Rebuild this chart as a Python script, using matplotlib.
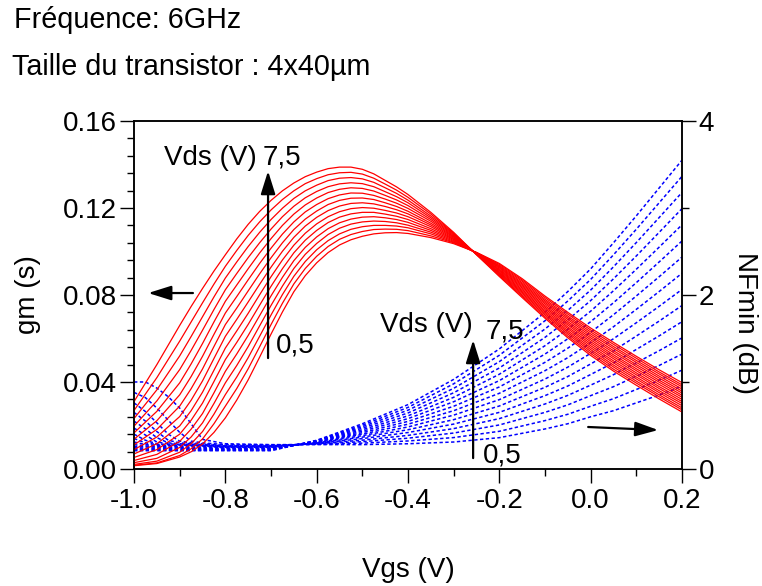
# gm and NFmin versus Vgs for Vds = 0.5 ... 7.5 V

import numpy as np
import matplotlib
matplotlib.use("Agg")
import matplotlib.pyplot as plt

plt.rcParams["font.family"] = ["Liberation Sans", "DejaVu Sans"]

# Vds values of the two families (one curve per value)
vds = [0.5, 1.0, 1.5, 2.0, 2.5, 3.0, 3.5, 4.0, 4.5, 5.0, 5.5, 6.0, 6.5, 7.0, 7.5]

# gm (S): one row per Vgs point, one column per Vds (0.5 V -> 7.5 V)
gm_vgs = [-1.0, -0.95, -0.9, -0.875, -0.85, -0.825, -0.8, -0.775, -0.75, -0.725, -0.7,
          -0.675, -0.65, -0.625, -0.6, -0.575, -0.55, -0.525, -0.5, -0.475, -0.45,
          -0.425, -0.4, -0.35, -0.3, -0.25, -0.2, -0.15, -0.1, -0.05, 0.0, 0.05,
          0.1, 0.15, 0.2]
gm_rows = [
    [0.0015, 0.0017, 0.0021, 0.0029, 0.0039, 0.0053, 0.0069, 0.0089, 0.0111, 0.0137, 0.0166, 0.0197, 0.0232, 0.0269, 0.0310],
    [0.0025, 0.0028, 0.0036, 0.0049, 0.0067, 0.0089, 0.0116, 0.0147, 0.0182, 0.0222, 0.0265, 0.0313, 0.0364, 0.0420, 0.0480],
    [0.0055, 0.0062, 0.0077, 0.0099, 0.0127, 0.0160, 0.0198, 0.0241, 0.0289, 0.0341, 0.0396, 0.0457, 0.0520, 0.0588, 0.0660],
    [0.0079, 0.0093, 0.0116, 0.0147, 0.0183, 0.0224, 0.0268, 0.0316, 0.0369, 0.0425, 0.0483, 0.0545, 0.0609, 0.0676, 0.0747],
    [0.0115, 0.0138, 0.0172, 0.0212, 0.0255, 0.0303, 0.0353, 0.0405, 0.0460, 0.0518, 0.0577, 0.0638, 0.0700, 0.0764, 0.0830],
    [0.0168, 0.0208, 0.0252, 0.0301, 0.0350, 0.0402, 0.0454, 0.0508, 0.0563, 0.0619, 0.0676, 0.0733, 0.0791, 0.0850, 0.0910],
    [0.0235, 0.0289, 0.0342, 0.0396, 0.0449, 0.0503, 0.0556, 0.0610, 0.0664, 0.0717, 0.0771, 0.0824, 0.0878, 0.0932, 0.0985],
    [0.0317, 0.0370, 0.0423, 0.0476, 0.0529, 0.0582, 0.0635, 0.0688, 0.0740, 0.0793, 0.0846, 0.0899, 0.0952, 0.1005, 0.1058],
    [0.0410, 0.0461, 0.0512, 0.0563, 0.0614, 0.0665, 0.0716, 0.0768, 0.0819, 0.0870, 0.0921, 0.0972, 0.1023, 0.1074, 0.1125],
    [0.0514, 0.0562, 0.0610, 0.0658, 0.0705, 0.0753, 0.0801, 0.0849, 0.0897, 0.0945, 0.0993, 0.1040, 0.1088, 0.1136, 0.1184],
    [0.0620, 0.0664, 0.0708, 0.0752, 0.0796, 0.0840, 0.0884, 0.0928, 0.0971, 0.1015, 0.1059, 0.1103, 0.1147, 0.1191, 0.1235],
    [0.0722, 0.0762, 0.0802, 0.0841, 0.0881, 0.0921, 0.0961, 0.1001, 0.1040, 0.1080, 0.1120, 0.1160, 0.1199, 0.1239, 0.1279],
    [0.0815, 0.0851, 0.0886, 0.0922, 0.0958, 0.0994, 0.1029, 0.1065, 0.1101, 0.1136, 0.1172, 0.1208, 0.1244, 0.1279, 0.1315],
    [0.0889, 0.0922, 0.0954, 0.0987, 0.1019, 0.1052, 0.1084, 0.1117, 0.1149, 0.1182, 0.1214, 0.1247, 0.1279, 0.1312, 0.1344],
    [0.0948, 0.0978, 0.1008, 0.1037, 0.1067, 0.1097, 0.1127, 0.1157, 0.1186, 0.1216, 0.1246, 0.1276, 0.1305, 0.1335, 0.1365],
    [0.0995, 0.1023, 0.1050, 0.1078, 0.1105, 0.1133, 0.1160, 0.1188, 0.1216, 0.1243, 0.1271, 0.1298, 0.1326, 0.1353, 0.1381],
    [0.1030, 0.1056, 0.1081, 0.1107, 0.1132, 0.1158, 0.1183, 0.1209, 0.1235, 0.1260, 0.1286, 0.1311, 0.1337, 0.1362, 0.1388],
    [0.1054, 0.1078, 0.1102, 0.1126, 0.1149, 0.1173, 0.1197, 0.1221, 0.1245, 0.1269, 0.1293, 0.1316, 0.1340, 0.1364, 0.1388],
    [0.1070, 0.1092, 0.1114, 0.1136, 0.1158, 0.1180, 0.1202, 0.1224, 0.1246, 0.1268, 0.1290, 0.1312, 0.1334, 0.1356, 0.1378],
    [0.1081, 0.1101, 0.1120, 0.1140, 0.1160, 0.1180, 0.1199, 0.1219, 0.1239, 0.1258, 0.1278, 0.1298, 0.1318, 0.1337, 0.1357],
    [0.1086, 0.1103, 0.1120, 0.1138, 0.1155, 0.1172, 0.1189, 0.1207, 0.1224, 0.1241, 0.1258, 0.1275, 0.1293, 0.1310, 0.1327],
    [0.1087, 0.1102, 0.1117, 0.1132, 0.1147, 0.1162, 0.1177, 0.1192, 0.1207, 0.1222, 0.1237, 0.1252, 0.1267, 0.1282, 0.1297],
    [0.1083, 0.1096, 0.1109, 0.1121, 0.1134, 0.1147, 0.1160, 0.1173, 0.1185, 0.1198, 0.1211, 0.1224, 0.1236, 0.1249, 0.1262],
    [0.1064, 0.1072, 0.1081, 0.1089, 0.1097, 0.1105, 0.1114, 0.1122, 0.1130, 0.1139, 0.1147, 0.1155, 0.1163, 0.1172, 0.1180],
    [0.1036, 0.1040, 0.1043, 0.1047, 0.1051, 0.1055, 0.1058, 0.1062, 0.1066, 0.1069, 0.1073, 0.1077, 0.1081, 0.1084, 0.1088],
    [0.0996, 0.0995, 0.0994, 0.0994, 0.0993, 0.0992, 0.0991, 0.0991, 0.0990, 0.0989, 0.0988, 0.0987, 0.0987, 0.0986, 0.0985],
    [0.0945, 0.0941, 0.0936, 0.0932, 0.0928, 0.0924, 0.0919, 0.0915, 0.0911, 0.0906, 0.0902, 0.0898, 0.0894, 0.0889, 0.0885],
    [0.0875, 0.0869, 0.0863, 0.0856, 0.0850, 0.0844, 0.0838, 0.0832, 0.0825, 0.0819, 0.0813, 0.0807, 0.0800, 0.0794, 0.0788],
    [0.0795, 0.0788, 0.0780, 0.0773, 0.0766, 0.0759, 0.0751, 0.0744, 0.0737, 0.0729, 0.0722, 0.0715, 0.0708, 0.0700, 0.0693],
    [0.0720, 0.0712, 0.0703, 0.0695, 0.0687, 0.0678, 0.0670, 0.0662, 0.0653, 0.0645, 0.0636, 0.0628, 0.0620, 0.0611, 0.0603],
    [0.0648, 0.0639, 0.0630, 0.0621, 0.0612, 0.0603, 0.0594, 0.0585, 0.0576, 0.0567, 0.0558, 0.0549, 0.0540, 0.0531, 0.0522],
    [0.0582, 0.0573, 0.0563, 0.0554, 0.0544, 0.0535, 0.0525, 0.0516, 0.0507, 0.0497, 0.0488, 0.0478, 0.0469, 0.0459, 0.0450],
    [0.0518, 0.0509, 0.0499, 0.0490, 0.0480, 0.0471, 0.0461, 0.0452, 0.0442, 0.0433, 0.0423, 0.0414, 0.0404, 0.0395, 0.0385],
    [0.0456, 0.0446, 0.0437, 0.0427, 0.0418, 0.0408, 0.0399, 0.0389, 0.0379, 0.0370, 0.0360, 0.0351, 0.0341, 0.0332, 0.0322],
    [0.0397, 0.0387, 0.0378, 0.0368, 0.0358, 0.0349, 0.0339, 0.0330, 0.0320, 0.0310, 0.0301, 0.0291, 0.0281, 0.0272, 0.0262],
]

# NFmin (dB): one row per Vgs point, one column per Vds (0.5 V -> 7.5 V)
nf_vgs = [-1.0, -0.975, -0.95, -0.925, -0.9, -0.875, -0.85, -0.8, -0.7, -0.6, -0.5,
          -0.4, -0.3, -0.2, -0.1, -0.05, 0.0, 0.05, 0.1, 0.15, 0.2]
nf_rows = [
    [1.00, 0.88, 0.76, 0.65, 0.55, 0.47, 0.40, 0.35, 0.31, 0.28, 0.26, 0.245, 0.23, 0.22, 0.21],
    [1.00, 0.82, 0.66, 0.55, 0.46, 0.39, 0.33, 0.30, 0.28, 0.265, 0.255, 0.24, 0.23, 0.22, 0.21],
    [0.93, 0.70, 0.53, 0.43, 0.36, 0.31, 0.29, 0.28, 0.27, 0.26, 0.25, 0.24, 0.23, 0.22, 0.21],
    [0.83, 0.56, 0.40, 0.33, 0.30, 0.29, 0.28, 0.27, 0.265, 0.255, 0.245, 0.235, 0.225, 0.215, 0.21],
    [0.70, 0.42, 0.32, 0.30, 0.29, 0.28, 0.275, 0.27, 0.26, 0.25, 0.24, 0.23, 0.22, 0.215, 0.21],
    [0.52, 0.32, 0.30, 0.29, 0.28, 0.275, 0.27, 0.265, 0.255, 0.245, 0.235, 0.225, 0.22, 0.215, 0.21],
    [0.34, 0.30, 0.29, 0.28, 0.275, 0.27, 0.265, 0.26, 0.25, 0.24, 0.235, 0.225, 0.22, 0.215, 0.21],
    [0.29, 0.28, 0.27, 0.265, 0.26, 0.255, 0.25, 0.245, 0.24, 0.235, 0.23, 0.225, 0.22, 0.215, 0.21],
    [0.28, 0.275, 0.27, 0.265, 0.26, 0.255, 0.25, 0.245, 0.24, 0.235, 0.23, 0.225, 0.22, 0.215, 0.21],
    [0.28, 0.284, 0.287, 0.291, 0.294, 0.298, 0.301, 0.305, 0.309, 0.312, 0.316, 0.319, 0.323, 0.326, 0.33],
    [0.28, 0.297, 0.314, 0.331, 0.349, 0.366, 0.383, 0.40, 0.417, 0.434, 0.451, 0.469, 0.486, 0.503, 0.52],
    [0.29, 0.322, 0.354, 0.386, 0.419, 0.451, 0.483, 0.515, 0.547, 0.579, 0.611, 0.644, 0.676, 0.708, 0.74],
    [0.31, 0.361, 0.413, 0.464, 0.516, 0.567, 0.619, 0.67, 0.721, 0.773, 0.824, 0.876, 0.927, 0.979, 1.03],
    [0.36, 0.433, 0.506, 0.579, 0.651, 0.724, 0.797, 0.87, 0.943, 1.016, 1.089, 1.161, 1.234, 1.307, 1.38],
    [0.46, 0.556, 0.651, 0.747, 0.843, 0.939, 1.034, 1.13, 1.226, 1.321, 1.417, 1.513, 1.609, 1.704, 1.80],
    [0.52, 0.629, 0.737, 0.846, 0.954, 1.063, 1.171, 1.28, 1.389, 1.497, 1.606, 1.714, 1.823, 1.931, 2.04],
    [0.60, 0.721, 0.843, 0.964, 1.086, 1.207, 1.329, 1.45, 1.571, 1.693, 1.814, 1.936, 2.057, 2.179, 2.30],
    [0.67, 0.808, 0.946, 1.084, 1.221, 1.359, 1.497, 1.635, 1.773, 1.911, 2.049, 2.186, 2.324, 2.462, 2.60],
    [0.76, 0.914, 1.067, 1.221, 1.374, 1.528, 1.681, 1.835, 1.989, 2.142, 2.296, 2.449, 2.603, 2.756, 2.91],
    [0.85, 1.02, 1.19, 1.36, 1.53, 1.70, 1.87, 2.04, 2.21, 2.38, 2.55, 2.72, 2.89, 3.06, 3.23],
    [0.95, 1.136, 1.321, 1.507, 1.693, 1.879, 2.064, 2.25, 2.436, 2.621, 2.807, 2.993, 3.179, 3.364, 3.55],
]

gm = np.array(gm_rows)
nf = np.array(nf_rows)

fig = plt.figure(figsize=(7.62, 5.86), dpi=100)
ax = fig.add_axes([0.1759, 0.1997, 0.7191, 0.5938])
ax2 = ax.twinx()

# NF curves first so the red gm curves sit on top
for k in range(len(vds)):
    ax2.plot(nf_vgs, nf[:, k], color="#0000ff", lw=1.1, linestyle=(0, (2.2, 1.6)))
for k in range(len(vds)):
    ax.plot(gm_vgs, gm[:, k], color="#ff0000", lw=0.9)

ax.set_zorder(ax2.get_zorder() + 1)
ax.patch.set_visible(False)

ax.set_xlim(-1.0, 0.2)
ax.set_ylim(0, 0.16)
ax2.set_ylim(0, 4)

ax.set_xticks([-1.0, -0.8, -0.6, -0.4, -0.2, 0.0, 0.2])
ax.set_xticks(np.arange(-1.0, 0.21, 0.1), minor=True)
ax.set_yticks([0.0, 0.04, 0.08, 0.12, 0.16])
ax.set_yticks(np.arange(0, 0.161, 0.008), minor=True)
ax.set_xticklabels(["-1.0", "-0.8", "-0.6", "-0.4", "-0.2", "0.0", "0.2"])
ax.set_yticklabels(["0.00", "0.04", "0.08", "0.12", "0.16"])
ax2.set_yticks([0, 2, 4])
ax2.set_yticks([1, 3], minor=True)

for a in (ax, ax2):
    a.tick_params(which="major", direction="out", length=10, width=1, labelsize=20, pad=2)
    a.tick_params(which="minor", direction="out", length=5, width=1)
    for s in a.spines.values():
        s.set_linewidth(1.1)
ax.tick_params(axis="x", pad=4)

ax.set_xlabel("Vgs (V)", fontsize=20, va="center")
ax.xaxis.set_label_coords(0.5, -0.29)
ax.set_ylabel("gm (s)", fontsize=20, va="center", ha="center")
ax.yaxis.set_label_coords(-0.193, 0.5)
ax2.set_ylabel("NFmin (dB)", fontsize=20, rotation=-90, va="center", ha="center")
ax2.yaxis.set_label_coords(1.115, 0.42)

fig.text(0.018, 0.966, "Fréquence: 6GHz", fontsize=20.7, va="center")
fig.text(0.0157, 0.886, "Taille du transistor : 4x40µm", fontsize=20.7, va="center")

# annotations
arrow = dict(arrowstyle="-|>,head_length=0.7,head_width=0.22", color="black", lw=1.6,
             shrinkA=0, shrinkB=0, mutation_scale=20)
ax.text(-0.935, 0.143, "Vds (V)", fontsize=20, va="center")
ax.text(-0.719, 0.143, "7,5", fontsize=20, va="center")
ax.annotate("", xy=(-0.7065, 0.137), xytext=(-0.7065, 0.051), arrowprops=arrow)
ax.text(-0.689, 0.0566, "0,5", fontsize=20, va="center")

ax.text(-0.462, 0.0662, "Vds (V)", fontsize=20, va="center")
ax.text(-0.229, 0.0634, "7,5", fontsize=20, va="center")
ax.annotate("", xy=(-0.2574, 0.0593), xytext=(-0.2574, 0.005), arrowprops=arrow)
ax.text(-0.235, 0.0064, "0,5", fontsize=20, va="center")

ax.annotate("", xy=(-0.969, 0.0809), xytext=(-0.871, 0.0809), arrowprops=arrow)
ax.annotate("", xy=(0.148, 0.0179), xytext=(-0.0055, 0.0193), arrowprops=arrow)

fig.savefig("out.png", dpi=100)
